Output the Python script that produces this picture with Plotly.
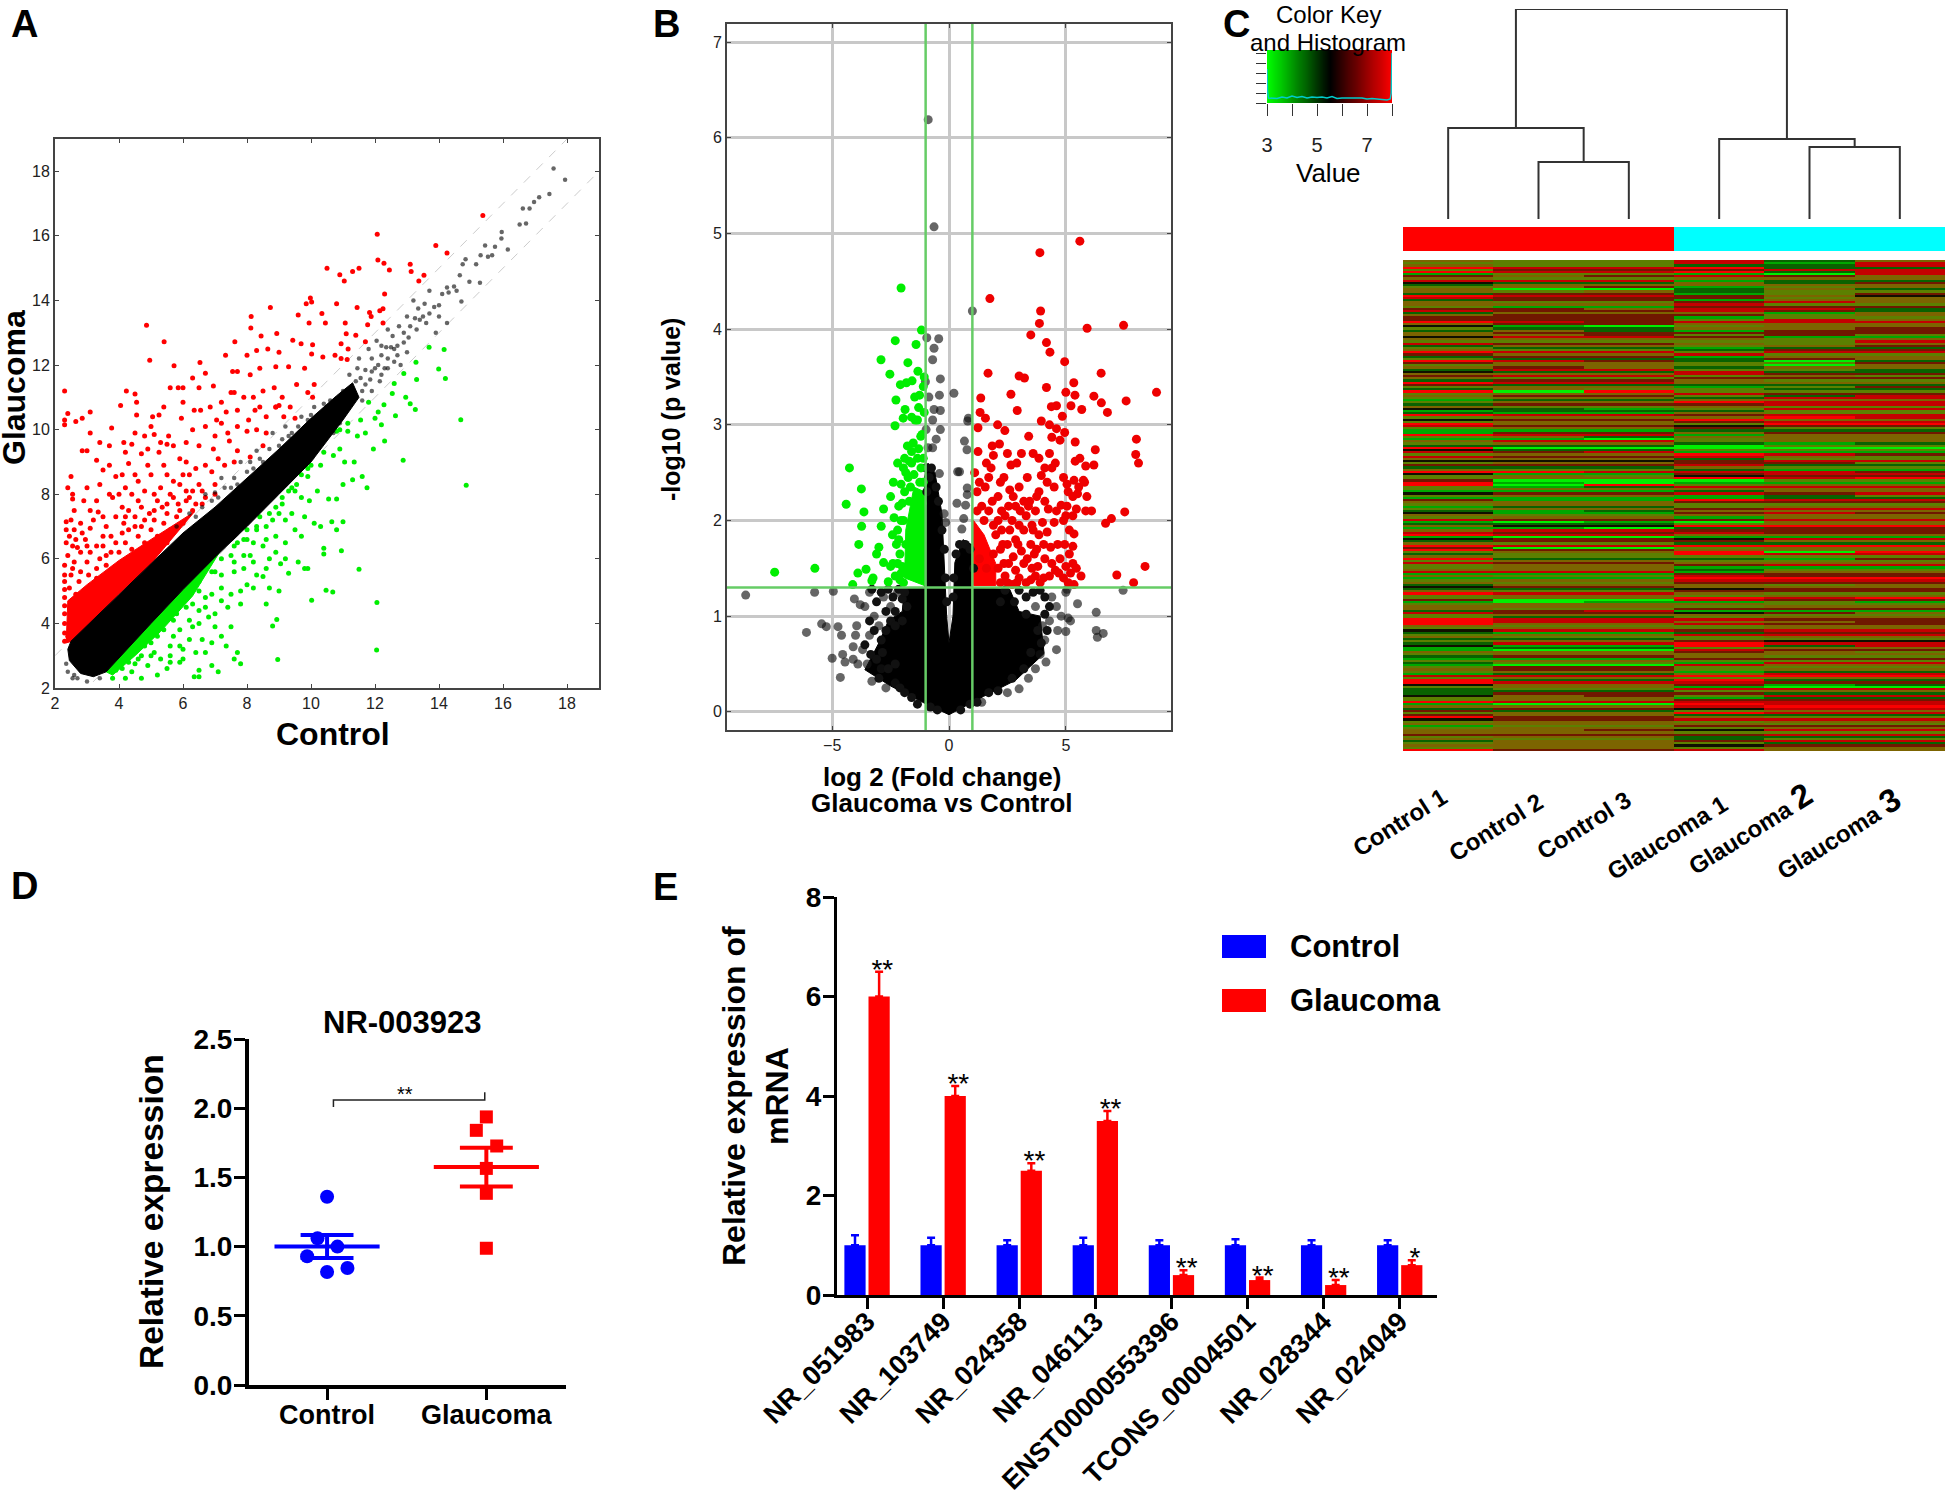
import plotly.graph_objects as go

W, H = 1945, 1493
FONT = "Liberation Sans"

# panel A: scatter of probe intensities
a_fold_x = [2, 19]
a_upper_y = [3, 20]
a_lower_y = [1, 18]
a_core = [(2.5,3.45),(4,4.9),(5,5.85),(6,6.8),(7,7.6),(8,8.5),(9,9.4),(10,10.35),(10.8,11.05),(11.3,11.45),
          (11.5,11.0),(11,10.3),(10,9.0),(9,8.0),(8,7.0),(7,6.05),(6,5.05),(5,4.0),(4,2.95),(3.6,2.5),
          (3.2,2.35),(2.8,2.45),(2.45,2.85),(2.4,3.2)]
a_red_core = [(2.35,3.4),(2.4,4.7),(3,5.2),(4,5.95),(5,6.6),(6.35,7.45),(5,5.85),(4,4.9),(2.55,3.45)]
a_green_core = [(3.6,2.5),(4,2.95),(5,4.0),(6,5.05),(7.2,6.3),(6.3,4.85),(5.3,3.75),(4.5,3.0),(3.8,2.4)]
a_gray = [(17.58,18.09),(17.94,17.74),(17.45,17.3),(17.13,17.2),(16.97,17.05),(16.83,16.85),(16.62,16.85),(16.72,16.38),
          (16.52,16.35),(15.96,16.12),(15.95,15.92),(16.15,15.58),(15.75,15.66),(15.44,15.7),(15.3,15.4),(15.16,15.12),
          (15.28,14.55),(15.53,15.35),(15.66,15.4),(14.83,15.28),(14.74,15.12),(14.95,14.58),(14.65,14.78),(14.7,13.97),
          (14.47,14.43),(14.55,14.3),(14.3,14.25),(14.1,14.2),(14.25,14.4),(14.0,13.85),(13.7,14.3),(13.85,13.8),
          (13.55,13.9),(13.35,13.75),(13.25,13.45),(13.4,13.4),(13.2,14.0),(13.0,13.5),(13.1,13.2),(12.9,13.0),
          (13.05,12.85),(12.75,13.2),(12.55,12.9),(12.5,12.55),(12.7,12.6),(12.35,12.55),(12.2,12.3),(12.05,12.75),
          (12.3,11.9),(12.0,11.9),(11.9,12.2),(11.7,11.85),(11.85,11.55),(11.55,11.6),(11.45,11.9),(12.15,11.5),
          (12.6,12.1),(13.6,13.3),(13.9,13.0),(14.25,13.3),(13.0,12.4),(12.4,13.1),(12.8,12.0),(11.3,11.15),
          (11.15,10.85),(11.0,11.2),(10.8,10.4),(10.6,10.9),(10.3,10.3),(10.1,10.7),(9.9,10.1),(9.7,10.4),
          (9.4,9.9),(9.2,10.1),(9.0,9.5),(8.8,9.9),(8.5,9.0),(8.3,9.35),(8.0,8.7),(7.8,9.0),(7.5,8.2),
          (7.2,8.5),(6.9,7.8),(6.7,8.0),(10.7,9.9),(10.2,9.5),(9.8,9.2),(9.3,8.7),(8.9,8.2),(8.4,7.7),(7.9,7.1),
          (3.0,2.2),(2.6,2.4),(2.35,2.75),(2.55,2.3),(2.4,2.5),(2.7,2.3),(3.4,2.3),
          (10.4,10.8),(10.0,10.45),(9.6,10.1),(9.3,9.8),(9.1,9.7),(8.7,9.4),(8.4,9.1),(8.1,9.0),(7.6,8.5),(7.3,8.2),(7.0,8.05),
          (6.6,7.6),(6.2,7.4),(5.8,7.0),(8.9,8.9),(9.4,9.7),(9.9,10.3),(10.6,10.6),(8.2,8.8),(7.7,8.3),(7.1,7.9),(6.4,7.3),(10.9,10.2),(11.0,10.6),(11.6,11.2),
          (11.4,11.5),(11.7,11.4),(11.9,11.8),(12.1,12.0),(12.4,12.2),(12.6,12.5),(12.9,12.7),(11.6,10.9),(11.9,11.2),(12.2,11.7),(11.5,12.2),(11.2,11.7),
          (11.8,12.5),(12.4,11.9),(12.7,12.3),(12.2,12.6),(13.3,13.1),(13.5,13.5),(13.7,13.6),(14.0,13.5),(11.4,11.0)]
a_red = [(15.37,16.63),(12.07,16.05),(12.09,15.25),(12.28,15.15),(12.45,14.94),(13.1,15.12),(13.13,14.9),(13.37,14.6),
         (13.53,14.78),(13.9,15.7),(14.25,15.47),(10.5,15),(10.9,14.8),(11.04,14.6),(11.3,14.9),(11.5,15),(9.98,14.08),
         (10.02,13.95),(9.85,13.9),(10.34,13.6),(10.8,13.9),(8.73,13.78),(8.13,13.5),(8.12,13.15),(4.86,13.23),(5.41,12.72),
         (4.96,12.15),(5.72,11.98),(6.53,12.08),(9.6,13.55),(9.94,13.3),(10.45,13.3),(11.07,13.3),(11.44,13.78),(11.83,13.63),
         (11.88,13.5),(11.77,13.25),(12.15,13.68),(12.25,13.74),(12.3,14.2),(12.25,13.3),(11.1,12.97),(11.4,12.92),(8.93,12.98),
         (8.44,12.9),(7.62,12.72),(7.33,12.3),(9.43,12.77),(9.69,12.66),(10.05,12.63),(10.02,12.34),(10.37,12.25),(10.75,12.3),
         (10.94,12.66),(11.16,12.5),(10.94,12.2),(11.13,12.17),(11.7,12.72),(8.0,12.3),(8.3,12.45),(8.65,12.5),(9.0,12.4),
         (7.55,11.8),(7.7,11.8),(8.1,11.7),(8.4,11.9),(8.9,11.95),(9.3,11.95),(9.8,11.9),(6.7,11.75),(6.3,11.6),
         (2.3,11.2),(2.3,10.3),(2.3,10.15),(2.4,10.5),(2.65,10.25),(2.85,10.35),(3.1,10.55),(3.1,9.9),(4.23,11.2),(4.5,11.1),
         (4.55,10.85),(3.77,10.05),(4.05,10.75),(4.55,10.45),(5.05,10.4),(5.4,10.7),(5.0,10.1),(5.25,10.45),(5.85,11.3),(6.0,11.3),
         (6.0,10.85),(5.6,11.3),(6.5,11.3),(6.95,11.35),(6.55,10.6),(6.85,10.7),(7.2,10.85),(7.5,11.15),(7.6,11.15),(7.9,11.0),
         (8.2,11.0),(8.5,11.2),(8.85,11.3),(9.1,11.0),(9.55,11.4),(10.1,11.4),(9.9,11.15),(10.05,11.0),(9.0,10.75),(8.9,10.7),
         (8.4,10.7),(8.25,10.6),(8.05,10.3),(8.6,10.4),(9.35,10.7),(9.15,10.4),(9.5,10.35),(7.35,10.55),(7.05,10.3),(6.35,10.6),
         (6.3,10.0),(5.95,10.35),(5.55,9.8),(5.5,9.55),(5.1,9.85),(4.8,9.8),(4.4,9.55),(4.15,9.6),(3.7,9.5),(3.3,9.05),
         (3.0,9.35),(2.85,9.35),(3.5,8.75),(3.9,8.55),(4.3,8.95),(4.7,9.25),(5.25,9.3),(5.9,9.1),(6.5,9.5),(6.95,9.4),(7.45,9.65),
         (7.7,9.35),(8.1,9.15),(8.5,9.5),(8.0,9.95),(2.5,8.55),(2.4,8.2),(2.55,8.0),(2.55,7.85),(2.9,7.8),(3.1,7.5),(3.35,7.45),
         (3.0,8.2),(3.4,8.3),(3.8,7.9),(4.2,8.2),(4.6,8.4),(5.0,8.6),(5.4,8.9),(5.9,8.3),(6.2,8.6),(6.7,8.9),(7.1,9.1),(6.3,8.1),
         (5.6,8.0),(5.1,8.0),(4.6,7.8),(4.1,7.6),(3.6,7.0),(2.35,7.15),(2.35,6.9),(2.5,7.2),(2.8,7.1),(2.85,6.8),(3.1,6.95),
         (3.3,6.4),(3.75,6.7),(4.15,7.1),(4.5,7.3),(4.95,7.4),(5.35,7.6),(5.85,7.7),(6.1,7.8),(6.6,7.7),(7.0,8.0),(6.5,8.3),
         (2.35,6.5),(2.4,6.1),(2.7,6.35),(2.95,6.6),(2.3,5.8),(2.6,5.9),(3.0,5.9),(3.4,6.0),(3.75,6.2),(4.2,6.5),(4.6,6.7),(5.0,6.9),
         (5.4,7.1),(5.8,7.3),(2.3,5.5),(2.3,5.3),(2.5,5.5),(2.8,5.6),(3.3,5.7),(3.6,5.8),(4.0,6.2),(4.4,6.3),(4.8,6.5),(5.2,6.7),
         (5.6,6.9),(6.0,7.1),(6.3,7.5),(4.3,5.8),(4.7,6.1),(5.2,6.3),(5.5,6.5),(2.3,5.05),(2.3,4.8),(2.3,4.55),(2.3,4.3),(2.3,4.0),
         (2.3,3.7),(2.3,3.45),(2.65,4.9),(2.9,5.0),
         (3.1,6.2),(3.5,6.4),(3.9,6.5),(4.3,6.9),(4.7,7.0),(5.1,7.2),(5.5,7.4),(5.9,7.5),(6.4,7.7),(6.7,7.9),(3.2,7.2),(3.5,7.3),(3.9,7.3),
         (4.3,7.5),(4.7,7.6),(5.2,7.8),(5.7,7.9),(6.1,8.1),(6.6,8.1),(7.0,8.3),(3.3,7.8),(3.7,8.0),(4.0,8.0),(4.4,8.0),(4.8,8.1),(5.3,8.2),(5.7,8.4),
         (6.0,8.6),(6.4,8.8),(6.9,8.7),(7.3,8.9),(7.6,9.0),(4.1,8.6),(4.5,8.6),(4.9,8.9),(5.5,8.6),(6.1,9.0),(7.0,9.8),(7.4,9.9),(7.7,10.1),(8.3,10.0),
         (8.6,9.9),(8.9,10.7),(7.7,10.6),(7.2,10.2),(6.7,10.1),(6.1,9.6),(5.7,9.5),(5.3,9.6),(4.9,9.4),(4.5,9.9),(4.2,9.3),(3.7,8.9),(3.4,9.6),
         (2.6,7.5),(2.6,6.9),(2.45,6.7),(2.55,6.4),(2.8,6.2),(2.55,5.7),(2.75,5.3),(3.05,5.5),(3.3,5.4),(3.6,5.5),(3.9,5.7),(2.45,5.1),(2.5,4.4),
         (2.45,4.0),(2.4,3.6),(3.6,6.1),(4.1,6.8),(4.5,7.0),(3.5,6.7),(3.0,6.4),(2.65,6.6),(6.2,7.9),(5.5,7.7),(5.1,7.5),(4.2,7.3),(4.8,7.2)]
a_green = [(14.16,12.48),(13.69,12.55),(13.28,12.09),(13.99,11.88),(14.2,11.58),(13.3,11.55),(12.9,11.74),(12.6,11.43),
           (12.54,11.12),(12.64,10.43),(13.26,10.62),(13.1,10.8),(12.96,11.0),(12.28,10.77),(14.68,10.31),(12.88,9.05),
           (14.85,8.28),(12.06,4.65),(12.05,3.18),(11.5,5.68),(10.68,4.97),(10.47,5.03),(10.02,4.72),(8.96,2.88),(8.93,4.12),
           (8.8,3.92),(10.95,6.25),(10.4,6.33),(10.4,6.15),(11.0,7.15),(10.8,6.9),(10.65,7.15),(10.3,7.0),(10.1,7.1),
           (9.95,7.8),(10.2,8.1),(10.55,7.85),(10.8,7.85),(11.0,8.3),(11.3,8.45),(11.6,8.55),(11.75,8.2),(11.35,9.0),(11.05,9.0),
           (10.7,9.2),(10.3,8.9),(9.9,8.55),(9.5,8.1),(9.1,7.7),(9.8,7.3),(9.5,6.9),(9.7,6.7),(9.2,6.5),(9.6,5.9),(9.9,5.7),(9.8,5.7),
           (9.3,5.55),(9.0,5.0),(8.7,5.1),(8.5,5.45),(8.2,5.9),(8.0,5.2),(7.8,4.6),(7.7,3.1),(7.8,2.75),(7.6,2.9),(7.1,2.5),(6.9,2.7),
           (6.5,2.35),(6.35,2.35),(6.5,2.55),(6.7,3.1),(6.6,3.5),(7.2,3.6),(7.5,3.9),(7.4,4.5),(7.0,4.3),(6.5,4.0),(6.2,3.5),
           (6.0,2.9),(5.9,2.8),(5.5,2.6),(5.2,2.4),(4.7,2.3),(4.5,2.75),(4.2,2.3),(3.8,2.3),(5.1,3.1),(5.6,3.3),(5.9,3.8),
           (6.3,4.6),(6.7,4.8),(7.2,5.1),(7.6,5.6),(8.1,6.1),(8.5,6.4),(8.9,6.7),(9.2,7.2),(8.6,7.0),(8.3,6.9),(7.9,6.6),(7.5,6.1),
           (7.0,5.6),(6.5,5.0),(6.1,4.5),(5.7,4.1),(5.2,3.6),(4.8,3.3),(4.3,2.8),(9.55,8.3),(9.9,8.8),(10.4,9.3),(10.8,9.95),
           (11.15,9.95),(11.45,9.8),(11.55,10.3),(11.8,10.85),(12.0,10.35),(12.2,10.15),(12.1,10.55),(12.3,9.65),(11.95,9.4),
           (11.7,9.9),(11.15,10.2),(10.9,10.0),(10.9,9.4),(9.3,8.1),(8.9,7.6),(8.4,7.3),(8.0,6.9),
           (8.7,6.0),(9.05,5.85),(8.3,5.5),(7.5,4.9),(6.8,4.2),(6.3,3.9),(5.7,3.6),(5.0,3.0),(4.6,2.9),(3.9,2.55),(8.6,4.6),(7.35,3.3),
           (4.1,2.6),(4.4,2.5),(4.9,2.7),(5.3,2.9),(5.6,3.0),(5.9,3.3),(6.2,4.1),(6.5,4.4),(6.9,4.9),(7.2,5.5),(7.6,5.9),(7.9,6.1),(8.2,6.5),(8.6,6.6),
           (8.8,7.2),(9.0,7.4),(4.7,3.0),(5.0,3.4),(5.4,3.8),(5.8,4.3),(6.1,4.8),(6.5,5.3),(6.9,5.6),(7.2,6.0),(7.6,6.4),(4.3,3.1),
           (7.7,6.5),(8.0,6.6),(8.3,7.0),(8.7,7.4),(9.1,7.9),(9.4,8.2),(9.7,8.6),(10.0,8.9),
           (5.6,2.8),(6.0,3.2),(6.4,3.1),(6.9,3.4),(7.0,3.9),(7.8,5.0),(8.2,5.1),(8.6,5.7),(8.9,6.2),(9.2,6.0),(9.4,7.4),(9.7,7.9),(7.9,5.7),(7.2,4.7),(6.7,4.5)]

# panel B: volcano plot, cutoffs and read-off points
b_fc_cut = [-1, 1]
b_p_cut = 1.3
b_core = [(-1.05,1.3),(-1.05,2.45),(-0.9,2.6),(-0.6,2.5),(-0.3,2.07),(-0.2,1.56),(-0.1,1.0),(0,0.72),(0.17,1.0),(0.25,1.56),
          (0.6,1.8),(1.09,1.73),(1.0,1.3),(2.6,1.28),(3.0,1.05),(3.9,1.0),(4.07,0.61),(2.85,0.33),(1.47,0.16),(0,-0.03),(-1.13,0.1),
          (-2.5,0.27),(-3.6,0.44),(-3.0,0.72),(-2.6,0.95),(-2.0,1.05),(-1.9,1.3)]
b_red_core = [(1.05,1.32),(1.05,2.0),(1.5,1.85),(2,1.55),(2.0,1.32)]
b_green_core = [(-1.05,1.32),(-1.05,2.3),(-1.5,2.35),(-1.85,1.9),(-1.9,1.4)]
b_gray = [(-0.89,6.19),(-0.64,5.07),(1,4.19),(-0.44,3.9),(-0.95,3.91),(-0.64,3.8),(-0.7,3.68),(-0.37,3.48),(-1.01,3.45),(0.21,3.33),
          (-0.41,3.31),(-0.86,3.29),(-0.37,3.15),(-0.64,3.16),(-0.7,3.05),(-0.98,2.95),(-0.37,2.95),(-0.55,2.85),(-0.7,2.76),(-0.9,2.76),
          (0.83,3.07),(0.8,3.04),(0.66,2.83),(0.77,2.74),(0.37,2.51),(0.45,2.51),(-0.41,2.49),(0.34,2.18),(0.78,2.34),(0.78,2.27),
          (0.71,2.16),(0.63,2.02),(0.55,1.91),(-0.21,2.07),(-0.14,1.98),(-8.7,1.22),(-5.75,1.25),(-4.95,1.26),(-4.05,1.18),(-3.8,1.12),
          (-6.1,0.83),(-5.45,0.92),(-5.25,0.89),(-4.75,0.89),(-4.6,0.8),(-5,0.56),(-4.55,0.6),(-4.45,0.52),(-4.65,0.36),(-4.0,0.8),
          (-4.1,0.68),(-3.95,0.9),(-3.6,1.1),(-3.4,1.25),(-3.2,1.0),(-3.7,0.65),(-3.4,0.8),(-3.0,0.9),(-4.1,0.55),(-3.9,0.5),(-3.3,0.32),
          (-2.9,0.45),(-2.7,0.25),(-2.3,0.3),(-3.5,0.5),(-2.8,1.2),(-2.5,1.1),(-2.2,1.25),(4.4,1.2),(4.6,1.1),(4.3,0.95),(4.8,1.0),
          (5.0,1.25),(5.05,1.28),(5.1,0.98),(5.2,0.95),(4.65,0.85),(5.0,0.84),(4.6,0.65),(5.5,1.13),(6.3,1.04),(6.3,0.85),(6.6,0.82),
          (6.35,0.78),(7.45,1.27),(4.1,0.75),(3.9,0.6),(3.7,0.45),(3.4,0.35),(3.0,0.24),(2.5,0.2),(1.4,0.1),(4.15,0.52),(3.7,1.1),(4.0,0.9)]
b_edge = [(-3.3,1.28),(-3.1,1.15),(-2.9,1.25),(-2.7,1.05),(-2.6,1.28),(-2.4,1.2),(-2.3,1.05),(-2.15,1.28),(-2.0,1.18),(-1.9,1.25),(-3.4,0.95),(-3.2,0.85),
          (-2.9,0.75),(-2.7,0.85),(-2.5,0.95),(-3.6,0.7),(-3.35,0.6),(-3.1,0.55),(-2.85,0.62),(-3.0,0.35),(-2.6,0.45),(-2.3,0.5),(-2.1,0.25),(-1.9,0.2),
          (-1.6,0.15),(-1.35,0.08),(-0.8,0.05),(-0.5,0.02),(0.5,0.02),(0.9,0.08),(1.2,0.1),(1.7,0.2),(2.1,0.22),(2.7,0.35),(3.2,0.45),(3.5,0.62),(3.95,0.72),
          (4.2,0.85),(4.3,1.1),(4.1,1.2),(3.9,1.27),(3.6,1.25),(3.3,1.2),(3.0,1.27),(2.8,1.15),(3.3,1.02),(2.4,1.27),(2.2,1.15),(3.8,0.85),(4.1,1.02),
          (-1.0,2.55),(-0.85,2.45),(-0.75,2.55),(-0.55,2.35),(-0.45,2.2),(-0.3,1.9),(-0.2,1.7),(-0.95,2.3),(-0.15,1.4),(-0.1,1.15),(0.18,1.2),(0.2,1.4),
          (0.3,1.65),(0.45,1.75),(0.7,1.75),(0.9,1.7),(1.05,1.5),(-2.3,0.9),(-2.0,0.95),(-1.8,1.1)]
b_red = [(5.6,4.92),(3.89,4.8),(1.75,4.32),(3.92,4.19),(3.87,4.06),(5.91,4.01),(7.47,4.04),(3.5,3.94),(4.17,3.86),(4.32,3.76),
         (4.95,3.66),(1.67,3.54),(3,3.51),(3.23,3.49),(6.51,3.54),(5.34,3.44),(4.17,3.39),(5,3.34),(5.39,3.31),(8.88,3.34),(1.36,3.28),
         (2.65,3.32),(6.2,3.3),(6.52,3.23),(7.58,3.25),(6.78,3.13),(5.68,3.16),(5.22,3.2),(4.38,3.19),(4.6,3.2),(2.92,3.15),(1.33,3.13),
         (1.56,3.07),(4.85,3.09),(3.95,3.04),(4.3,3.0),(1.24,2.97),(2.08,3),(2.39,2.94),(4.6,2.96),(4.95,2.92),(3.41,2.88),(8.02,2.85),
         (7.99,2.69),(8.11,2.6),(5.4,2.82),(6.26,2.74),(4.4,2.87),(4.75,2.84),(1.85,2.78),(2.16,2.8),(1.24,2.72),(1.9,2.68),(7.52,2.09),
         (6.95,2.02),(6.7,1.97),(8.39,1.52),(7.18,1.43),(7.9,1.35),(6.1,2.1),(5.85,2.1),(5.9,2.25),(5.75,2.42),(6.2,2.58),(5.85,2.57),
         (5.6,2.65),(5.4,2.62),(4.55,2.6),(4.4,2.55),(3.6,2.7),(3.85,2.65),(3.1,2.7),(2.9,2.6),(2.65,2.58),(1.8,2.55),(1.1,2.5),(1.7,2.45),
         (2.35,2.45),(2.2,2.4),(3.35,2.45),(3.95,2.47),(4.9,2.45),(5.05,2.38),(5.35,2.42),(5.8,2.4),(4.2,2.4),(4.5,2.35),(3.0,2.35),
         (2.6,2.32),(1.55,2.35),(1.2,2.3),(1.85,2.2),(2.1,2.25),(3.85,2.3),(3.75,2.25),(4.1,2.2),(5.1,2.3),(5.3,2.25),(5.5,2.28),
         (3.2,2.2),(2.85,2.15),(2.55,2.15),(1.4,2.15),(1.7,2.1),(2.4,2.05),(3.3,2.05),(3.7,2.1),(4.25,2.12),(4.8,2.16),(5.05,2.15),
         (5.45,2.12),(2.7,2.0),(3.0,1.95),(3.55,1.95),(4.0,1.98),(4.5,1.98),(5.0,2.05),(5.15,1.9),(5.35,1.86),(2.25,1.9),(2.0,1.85),
         (3.2,1.9),(3.85,1.85),(4.2,1.88),(2.5,1.75),(2.85,1.8),(3.5,1.75),(4.65,1.75),(5.3,1.73),(4.95,1.75),(2.2,1.7),(2.75,1.62),(3.1,1.68),
         (3.65,1.65),(4.1,1.6),(2.35,1.55),(3.2,1.55),(3.8,1.52),(4.55,1.48),(5.0,1.52),(5.3,1.55),(5.45,1.5),(5.2,1.45),(5.65,1.42),
         (2.4,1.42),(3.0,1.4),(3.5,1.38),(3.9,1.35),(4.3,1.42),(4.7,1.45),(5.1,1.35),(5.35,1.33),(2.2,1.35),(2.7,1.33),(1.3,1.6),(1.6,1.5),
         (1.2,2.1),(1.5,2.0),(1.9,1.95),(2.25,2.1),(2.75,2.25),(3.05,2.1),(3.45,2.2),(3.6,1.9),(2.95,1.75),(2.6,1.9),(2.3,1.75),(2.55,1.55),(2.85,1.48),
         (3.35,1.6),(3.55,1.5),(3.75,1.7),(4.05,1.75),(4.35,1.72),(4.4,1.55),(4.05,1.4),(3.7,1.42),(3.3,1.35),(2.9,1.35),(2.5,1.35),(2.1,1.5),(1.9,1.65),
         (2.1,2.0),(1.3,2.4),(1.6,2.6),(2.5,2.7),(3.4,2.15),(4.6,2.1),(4.9,2.0),(4.75,1.6),(4.9,1.4),(5.15,1.65),(5.3,2.05),(5.55,2.35),(4.3,2.7),(4.1,2.55)]
b_green = [(-2.05,4.43),(-1.18,3.99),(-2.3,3.88),(-1.41,3.84),(-2.91,3.68),(-1.76,3.65),(-2.53,3.53),(-1.33,3.56),(-1.06,3.5),
           (-2.08,3.42),(-1.82,3.44),(-1.58,3.46),(-2.27,3.26),(-1.47,3.29),(-1.26,3.31),(-1.88,3.16),(-1.96,3.07),(-1.6,3.08),(-1.3,3.18),
           (-1.06,3.13),(-2.31,2.99),(-1.35,3.05),(-1.78,2.78),(-1.53,2.81),(-1.21,2.88),(-4.26,2.55),(-3.75,2.33),(-4.4,2.17),(-3.64,2.09),
           (-3.74,1.94),(-3.86,1.75),(-7.46,1.46),(-5.74,1.5),(-3.9,1.45),(-3.55,1.49),(-4.12,1.33),(-3.3,1.37),(-3.25,1.4),(-3.0,1.72),
           (-3.1,1.65),(-2.8,1.56),(-2.8,2.12),(-2.9,1.94),(-2.38,2.4),(-2.5,2.25),(-2.35,2.03),(-2.42,1.85),(-2.4,1.55),(-2.5,1.52),
           (-2.2,1.9),(-2.25,1.75),(-2.1,1.65),(-2.3,1.42),(-2.05,1.45),(-2.15,2.15),(-2.05,2.38),(-1.95,2.55),(-2.2,2.6),(-1.9,2.65),
           (-1.7,2.62),(-1.6,2.72),(-1.35,2.65),(-1.2,2.55),(-1.75,2.45),(-1.5,2.48),(-1.25,2.4),(-1.9,2.3),(-2.0,2.18),(-1.7,2.2),
           (-1.4,2.2),(-1.15,2.18),(-1.95,2.0),(-1.85,1.75),(-2.0,1.52),(-1.95,1.35),(-2.6,1.36),(-1.1,3.4),(-1.45,3.05),
           (-1.6,2.6),(-1.3,2.75),(-1.1,2.65),(-1.15,2.9),(-1.65,2.35),(-1.85,2.5),(-2.05,2.0),(-2.15,1.8),(-2.1,1.38),(-2.2,1.55),(-1.9,1.45),(-1.1,2.4)]

# panel C: dendrogram merges (leaf or node positions and heights), sample bar and heat rows
dend_x = [(2, 3), (1, 2.5), (5, 6), (4, 5.5), (1.75, 4.75)]
dend_h = [57, 91, 72, 80, 210]
dend_kids = [(0, 0), (0, 57), (0, 0), (0, 72), (91, 80)]
sample_groups = [[0, 0, 0, 1, 1, 1]]
samples = ["Control 1", "Control 2", "Control 3",
           "Glaucoma 1", "Glaucoma <span style='font-size:33px'>2</span>", "Glaucoma <span style='font-size:33px'>3</span>"]
sample_x = [1399, 1495, 1583, 1667, 1749, 1837]
sample_y = [822, 827, 825, 837, 829, 833]
heat_levels = ["#00f000", "#00a800", "#0a6200", "#5c8000", "#7c6400", "#701800", "#c40000", "#fa0000", "#101000"]
heat_rows = """
433624 333616 433226 766722 355566 766726 133106 545654 433444 666122 822425 244444 345134 400242 434233 255135 766548 655534
255144 433564 444633 311555 554662 655652 244414 455534 555133 555364 765666 455444 810344 322445 242155 455555 445353 866511
444434 333336 655434 244345 322122 433255 766366 544633 255144 322254 765202 544335 344304 454244 266332 822622 444655 566343
433555 255433 766444 522222 344135 243322 707333 344655 455326 344266 122444
344766 255566 433433 821366 122233 211433 766566 344476 855744 344566 744377 655855 344533 111222 155455 766144 342444 110344
466344 344212 222033 700000 822333 656111 344765 655643 444233 888566 344553 555622 222433 433211 776665 811566 343855 344767
500033 710111 707344 312666 344444 111244 855656 344123 111122 511766 444555 344333 122344 344566 212444 811565 433444 344144
655566 101044 222344 488777 110255
466555 655655 766444 100111 855866 255544 433222 766777 500344 755444 344707 233766 433333 722215 344333 655444 344566 344111
444233 666144 111555 433655 111777 344666 433555 244434 855444 222855 433555 766433 344344 344767 500655 101131 344433 444344
433555 256111 655854 344433 322344 766655 766445 744655 433344 344344 866566 211255 344666 433344 222333 344588
266766 811726 122344 100655 444543 344444 255433 111555 344333 233166 100644 355333 455344 344122 122466 666777 344344 722722
766655 844512 344100 233666 222344 255522 845366 344122 344555 766666 100766 444677 255866 522344 344766 544222 755433 855666
344344 444433 133555 344344 445866 444333 555566 344222 433233 244566 344322 444855 344344 755644
""".split()
key_values = [3, 3.25, 3.5, 3.75, 4, 4.25, 4.5, 4.75, 5, 5.25, 5.5, 5.75, 6, 6.25, 6.5, 6.75, 7, 7.25, 7.5, 7.75, 8]
key_ticks = [3, 4, 5, 6, 7, 8]
key_ticktext = ["3", "", "5", "", "7", ""]
hist_x = [3, 3.02, 3.06, 3.2, 3.4, 3.6, 3.8, 4, 4.2, 4.4, 4.6, 4.8, 5, 5.2, 5.4, 5.6, 5.8, 6, 6.2, 6.4, 6.6, 6.8, 7, 7.2, 7.4, 7.6, 7.8, 7.93, 7.97, 8]
hist_y = [3.4, 1.2, 0.5, 0.5, 0.45, 0.6, 0.5, 0.7, 0.55, 0.65, 0.5, 0.6, 0.55, 0.6, 0.5, 0.65, 0.45, 0.5, 0.5, 0.45, 0.5, 0.5, 0.4, 0.45, 0.4, 0.35, 0.3, 0.4, 1.0, 5.0]

# panel D: NR-003923
d_control_x = [1, 0.94, 1.065, 0.875, 1.128, 1]
d_control_y = [1.36, 1.06, 1.0, 0.93, 0.845, 0.817]
d_glaucoma_x = [2, 1.937, 2.065, 2, 2, 2]
d_glaucoma_y = [1.937, 1.84, 1.727, 1.565, 1.385, 0.988]
d_mean = [1.0, 1.575]
d_sem = [0.083, 0.14]
d_groups = ["Control", "Glaucoma"]
d_bracket_x = [1.04, 1.04, 1.99, 1.99]
d_bracket_y = [2.009, 2.06, 2.06, 2.116]

# panel E: mRNA bars
e_genes = ["NR_051983", "NR_103749", "NR_024358", "NR_046113", "ENST00000553396", "TCONS_00004501", "NR_028344", "NR_024049"]
e_control = [1, 1, 1, 1, 1, 1, 1, 1]
e_control_err = [0.2, 0.15, 0.1, 0.15, 0.1, 0.12, 0.1, 0.1]
e_glaucoma = [6, 4, 2.5, 3.5, 0.4, 0.3, 0.2, 0.6]
e_glaucoma_err = [0.5, 0.2, 0.15, 0.2, 0.1, 0.05, 0.1, 0.1]
e_stars = ["**", "**", "**", "**", "**", "**", "**", "*"]


def dom_x(left, right):
    return [left / W, right / W]


def dom_y(top, bottom):
    return [1 - bottom / H, 1 - top / H]


def label(x, y, text, size, bold=True, angle=0, color="black"):
    return dict(xref="paper", yref="paper", x=x / W, y=1 - y / H, text=f"<b>{text}</b>" if bold else text,
                showarrow=False, xanchor="center", yanchor="middle", textangle=angle,
                font=dict(family=FONT, size=size, color=color))


def split(points):
    return [p[0] for p in points], [p[1] for p in points]


def closed(points):
    xs, ys = split(points)
    return xs + xs[:1], ys + ys[:1]


def cloud(points, color, size, xa, ya):
    xs, ys = split(points)
    return go.Scatter(x=xs, y=ys, mode="markers", marker=dict(size=size, color=color), xaxis=xa, yaxis=ya)


def blob(points, color, xa, ya):
    xs, ys = closed(points)
    return go.Scatter(x=xs, y=ys, mode="lines", fill="toself", fillcolor=color, line=dict(color=color, width=1),
                      xaxis=xa, yaxis=ya)


fig = go.Figure()

# A
for ys in (a_upper_y, a_lower_y):
    fig.add_trace(go.Scatter(x=a_fold_x, y=ys, mode="lines", line=dict(color="#cccccc", width=1, dash="dash"), xaxis="x", yaxis="y"))
fig.add_trace(blob(a_red_core, "#ff0000", "x", "y"))
fig.add_trace(blob(a_green_core, "#00ee00", "x", "y"))
fig.add_trace(cloud(a_red, "#ff0000", 5, "x", "y"))
fig.add_trace(cloud(a_green, "#00ee00", 5, "x", "y"))
fig.add_trace(cloud(a_gray, "rgba(0,0,0,0.6)", 4.5, "x", "y"))
fig.add_trace(blob(a_core, "#000000", "x", "y"))

# B
fig.add_trace(blob(b_core, "#000000", "x2", "y2"))
fig.add_trace(blob(b_red_core, "#ff0000", "x2", "y2"))
fig.add_trace(blob(b_green_core, "#00ee00", "x2", "y2"))
fig.add_trace(cloud(b_gray, "rgba(20,20,20,0.65)", 9, "x2", "y2"))
fig.add_trace(cloud(b_edge, "#111111", 9, "x2", "y2"))
fig.add_trace(cloud(b_green, "#00ee00", 9, "x2", "y2"))
fig.add_trace(cloud(b_red, "#ee0000", 9, "x2", "y2"))
for cut in b_fc_cut:
    fig.add_trace(go.Scatter(x=[cut, cut], y=[-0.19, 7.19], mode="lines", line=dict(color="#66cc66", width=2.5), xaxis="x2", yaxis="y2"))
fig.add_trace(go.Scatter(x=[-9.5, 9.5], y=[b_p_cut, b_p_cut], mode="lines", line=dict(color="#66cc66", width=2.5), xaxis="x2", yaxis="y2"))

# C
heat_z = [[int(c) for c in row] for row in heat_rows]
heat_scale = []
for i, c in enumerate(heat_levels):
    heat_scale += [[i / len(heat_levels), c], [(i + 1) / len(heat_levels), c]]
fig.add_trace(go.Heatmap(z=heat_z, x=[1, 2, 3, 4, 5, 6], y=list(range(len(heat_z))), zmin=-0.5, zmax=8.5,
                         colorscale=heat_scale, showscale=False, xaxis="x3", yaxis="y3"))
for (x0, x1), h, (k0, k1) in zip(dend_x, dend_h, dend_kids):
    fig.add_trace(go.Scatter(x=[x0, x0, x1, x1], y=[k0, h, h, k1], mode="lines", line=dict(color="#333333", width=2),
                             xaxis="x4", yaxis="y4"))
fig.add_trace(go.Heatmap(z=sample_groups, x=[1, 2, 3, 4, 5, 6], y=[0], zmin=0, zmax=1, showscale=False,
                         colorscale=[[0, "#ff0000"], [1, "#00ffff"]], xaxis="x5", yaxis="y5"))
fig.add_trace(go.Heatmap(z=[key_values, key_values], x=key_values, y=[0.2, 5.3], zmin=3, zmax=8, zsmooth="best", showscale=False,
                         colorscale=[[0, "#00ff00"], [0.5, "#000000"], [1, "#ff0000"]], xaxis="x6", yaxis="y6"))
fig.add_trace(go.Scatter(x=hist_x, y=hist_y, mode="lines", line=dict(color="#00cccc", width=1.5), xaxis="x6", yaxis="y6"))

# D
fig.add_trace(go.Scatter(x=d_control_x, y=d_control_y, mode="markers", marker=dict(size=14, color="#0000ff"), xaxis="x7", yaxis="y7"))
fig.add_trace(go.Scatter(x=d_glaucoma_x, y=d_glaucoma_y, mode="markers", marker=dict(size=13, color="#ff0000", symbol="square"), xaxis="x7", yaxis="y7"))
for pos, mean, sem, color in zip([1, 2], d_mean, d_sem, ["#0000ff", "#ff0000"]):
    fig.add_trace(go.Scatter(x=[pos - 0.33, pos + 0.33], y=[mean, mean], mode="lines", line=dict(color=color, width=4), xaxis="x7", yaxis="y7"))
    fig.add_trace(go.Scatter(x=[pos - 0.166, pos + 0.166, None, pos, pos, None, pos - 0.166, pos + 0.166],
                             y=[mean + sem, mean + sem, None, mean + sem, mean - sem, None, mean - sem, mean - sem],
                             mode="lines", line=dict(color=color, width=4), xaxis="x7", yaxis="y7"))
fig.add_trace(go.Scatter(x=d_bracket_x, y=d_bracket_y, mode="lines", line=dict(color="#222222", width=1.5), xaxis="x7", yaxis="y7"))

# E
e_pos = list(range(len(e_genes)))
fig.add_trace(go.Bar(x=e_pos, y=e_control, marker=dict(color="#0000ff"), xaxis="x8", yaxis="y8",
                     error_y=dict(type="data", array=e_control_err, arrayminus=[0] * 8, color="#0000ff", thickness=2.5, width=4)))
fig.add_trace(go.Bar(x=e_pos, y=e_glaucoma, marker=dict(color="#ff0000"), xaxis="x8", yaxis="y8",
                     error_y=dict(type="data", array=e_glaucoma_err, arrayminus=[0] * 8, color="#ff0000", thickness=2.5, width=4)))
# the asterisk glyph sits high in its box, so the text is set lower than the error cap
fig.add_trace(go.Scatter(x=[p + 0.2 for p in e_pos], y=[v + e - 0.28 for v, e in zip(e_glaucoma, e_glaucoma_err)], mode="text", text=e_stars,
                         textposition="top center", textfont=dict(family=FONT, size=28, color="black"), xaxis="x8", yaxis="y8"))

scatter_axis = dict(showline=True, mirror="ticks", linecolor="#444444", linewidth=2, ticks="inside", ticklen=4, tickcolor="#444444",
                    showgrid=False, zeroline=False, tickfont=dict(family=FONT, size=16, color="#222222"))
hidden = dict(visible=False, showgrid=False, zeroline=False)
prism_x = dict(showline=True, linecolor="black", linewidth=4, ticks="outside", ticklen=11, tickwidth=3, tickcolor="black",
               showgrid=False, zeroline=False, tickfont=dict(family=FONT, size=27, color="black"))
prism_y = dict(prism_x, tickfont=dict(family=FONT, size=28, color="black"), ticklabelstandoff=-4)

annotations = [
    label(24, 24, "A", 38), label(666, 24, "B", 38), label(1236, 24, "C", 38), label(24, 886, "D", 38), label(665, 887, "E", 38),
    label(333, 734, "Control", 32), label(14, 388, "Glaucoma", 32, angle=-90),
    label(942, 777, "log 2 (Fold change)", 26), label(942, 803, "Glaucoma vs Control", 26),
    label(671, 410, "-log10 (p value)", 25, angle=-90),
    label(1328, 14, "Color Key", 24, bold=False), label(1328, 42, "and Histogram", 24, bold=False), label(1328, 173, "Value", 26, bold=False),
    label(402, 1022, "NR-003923", 31), label(151, 1212, "Relative expression", 33.5, angle=-90),
    label(405, 1094, "**", 20, bold=False),
    label(734, 1096, "Relative expression of", 32, angle=-90), label(777, 1096, "mRNA", 32, angle=-90),
    dict(label(1288, 946, "Control", 31), xanchor="left"), dict(label(1288, 1000, "Glaucoma", 31), xanchor="left"),
]
for name, cx, cy in zip(samples, sample_x, sample_y):
    annotations.append(label(cx, cy, name, 24, angle=-32))

legend_boxes = [
    dict(type="rect", xref="paper", yref="paper", x0=1222 / W, x1=1266 / W, y0=1 - 958 / H, y1=1 - 935 / H, fillcolor="#0000ff", line_width=0),
    dict(type="rect", xref="paper", yref="paper", x0=1222 / W, x1=1266 / W, y0=1 - 1012 / H, y1=1 - 989 / H, fillcolor="#ff0000", line_width=0),
]

fig.update_layout(
    template="none", width=W, height=H, margin=dict(l=0, r=0, t=0, b=0), paper_bgcolor="white", plot_bgcolor="white", showlegend=False,
    barmode="group", bargap=0.366, bargroupgap=0.12, annotations=annotations, shapes=legend_boxes, font=dict(family=FONT),
    xaxis=dict(scatter_axis, domain=dom_x(55, 599), range=[2, 19], tickvals=list(range(2, 19, 2))),
    yaxis=dict(scatter_axis, domain=dom_y(139, 688), range=[2, 19], tickvals=list(range(2, 19, 2))),
    xaxis2=dict(scatter_axis, domain=dom_x(727, 1171), range=[-9.5, 9.5], tickvals=[-5, 0, 5], anchor="y2", showgrid=True, gridcolor="#c8c8c8", gridwidth=3),
    yaxis2=dict(scatter_axis, domain=dom_y(24, 730), range=[-0.19, 7.19], tickvals=list(range(8)), anchor="x2", showgrid=True, gridcolor="#c8c8c8", gridwidth=3),
    xaxis3=dict(hidden, domain=dom_x(1403, 1945), range=[0.5, 6.5], anchor="y3"),
    yaxis3=dict(hidden, domain=dom_y(260, 751), autorange="reversed", anchor="x3"),
    xaxis4=dict(hidden, domain=dom_x(1403, 1945), range=[0.5, 6.5], anchor="y4"),
    yaxis4=dict(hidden, domain=dom_y(9, 219), range=[0, 210], anchor="x4"),
    xaxis5=dict(hidden, domain=dom_x(1403, 1945), range=[0.5, 6.5], anchor="y5"),
    yaxis5=dict(hidden, domain=dom_y(227, 251), range=[-0.5, 0.5], anchor="x5"),
    xaxis6=dict(domain=dom_x(1267, 1392), range=[3, 8], anchor="y6", tickvals=key_ticks, ticktext=key_ticktext, ticks="outside", ticklen=12, tickcolor="#333333",
                showgrid=False, zeroline=False, ticklabelstandoff=12, tickfont=dict(family=FONT, size=20, color="#222222")),
    yaxis6=dict(domain=dom_y(50, 103), range=[0, 5.3], anchor="x6", tickvals=[0, 1, 2, 3, 4, 5], ticktext=[""] * 6, ticks="outside", ticklen=10, tickcolor="#333333",
                showgrid=False, zeroline=False),
    xaxis7=dict(prism_x, domain=dom_x(249, 566), range=[0.51, 2.5], anchor="y7", tickvals=[1, 2], ticktext=[f"<b>{g}</b>" for g in d_groups], ticklabelstandoff=-8),
    yaxis7=dict(prism_y, domain=dom_y(1039, 1385), range=[0, 2.5], anchor="x7", tickvals=[0, 0.5, 1, 1.5, 2, 2.5],
                ticktext=["<b>0.0</b>", "<b>0.5</b>", "<b>1.0</b>", "<b>1.5</b>", "<b>2.0</b>", "<b>2.5</b>"]),
    xaxis8=dict(prism_x, domain=dom_x(837, 1437), range=[-0.395, 7.49], anchor="y8", tickvals=e_pos, ticktext=[f"<b>{g}</b>" for g in e_genes], tickangle=-45,
                linewidth=3, ticklabelstandoff=-14, tickfont=dict(family=FONT, size=27, color="black")),
    yaxis8=dict(prism_y, domain=dom_y(897, 1295), range=[0, 8], anchor="x8", tickvals=[0, 2, 4, 6, 8], ticktext=[f"<b>{v}</b>" for v in [0, 2, 4, 6, 8]], linewidth=3),
)

fig.write_html("out.html", config=dict(displayModeBar=False), post_script="document.body.style.margin='0';")
